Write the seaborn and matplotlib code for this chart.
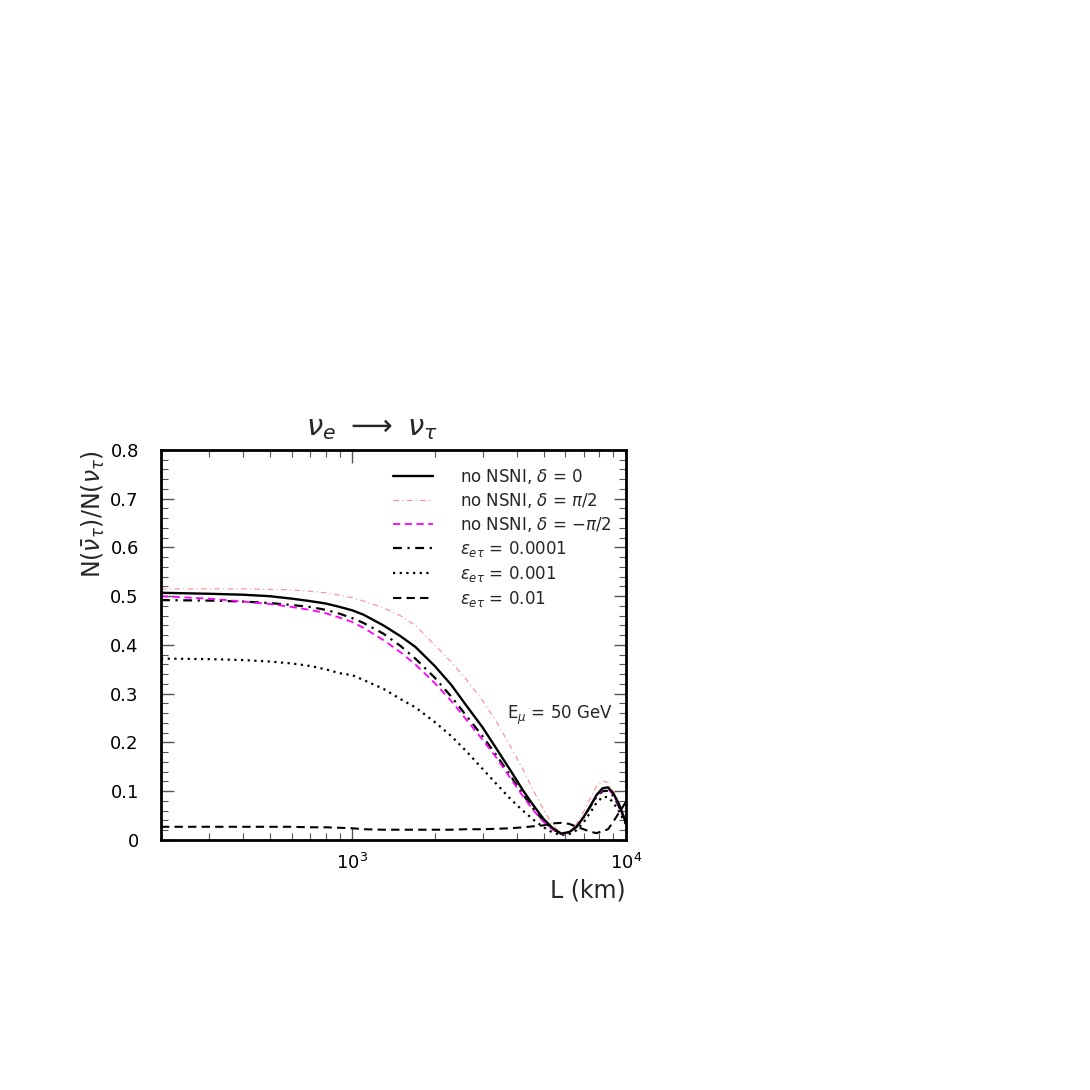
import numpy as np
import pandas as pd
import seaborn as sns
import matplotlib.pyplot as plt
from matplotlib.ticker import MultipleLocator, FuncFormatter, LogLocator, NullFormatter

# baseline length L (km)
L_km = [200, 300, 400, 500, 600, 700, 800, 900, 1000, 1100, 1300, 1500, 1700,
        2000, 2300, 2600, 3000, 3400, 3800, 4200, 4600, 5000, 5400, 5800,
        6200, 6600, 7000, 7400, 7800, 8200, 8600, 9000, 9400, 10000]

# ratio N(anti-nu_tau)/N(nu_tau) for each case
no_nsni_d0 = [0.507, 0.505, 0.503, 0.500, 0.495, 0.490, 0.485, 0.478, 0.471, 0.462,
              0.440, 0.418, 0.396, 0.357, 0.318, 0.277, 0.230, 0.183, 0.141, 0.102,
              0.070, 0.043, 0.024, 0.013, 0.016, 0.027, 0.047, 0.069, 0.092, 0.106,
              0.108, 0.095, 0.075, 0.035]
no_nsni_dpi2 = [0.515, 0.515, 0.515, 0.514, 0.513, 0.510, 0.507, 0.502, 0.497, 0.490,
                0.476, 0.460, 0.440, 0.400, 0.365, 0.330, 0.285, 0.238, 0.190, 0.145,
                0.100, 0.062, 0.030, 0.014, 0.018, 0.033, 0.058, 0.085, 0.110, 0.121,
                0.118, 0.100, 0.078, 0.040]
no_nsni_dmpi2 = [0.500, 0.495, 0.489, 0.484, 0.478, 0.472, 0.465, 0.456, 0.447, 0.435,
                 0.410, 0.385, 0.360, 0.322, 0.285, 0.248, 0.205, 0.165, 0.125, 0.090,
                 0.060, 0.037, 0.021, 0.012, 0.016, 0.027, 0.046, 0.068, 0.090, 0.103,
                 0.105, 0.092, 0.072, 0.035]
eps_1e4 = [0.492, 0.491, 0.489, 0.486, 0.482, 0.478, 0.472, 0.464, 0.455, 0.445,
           0.423, 0.398, 0.372, 0.333, 0.294, 0.256, 0.212, 0.170, 0.130, 0.094,
           0.063, 0.039, 0.022, 0.013, 0.016, 0.027, 0.046, 0.068, 0.088, 0.100,
           0.101, 0.090, 0.070, 0.035]
eps_1e3 = [0.372, 0.371, 0.369, 0.366, 0.362, 0.357, 0.350, 0.342, 0.338, 0.328,
           0.310, 0.289, 0.272, 0.242, 0.213, 0.183, 0.145, 0.112, 0.083, 0.060,
           0.041, 0.026, 0.015, 0.010, 0.012, 0.020, 0.036, 0.056, 0.076, 0.088,
           0.088, 0.076, 0.060, 0.032]
eps_1e2 = [0.027, 0.027, 0.027, 0.027, 0.027, 0.026, 0.026, 0.025, 0.024, 0.022,
           0.021, 0.021, 0.021, 0.021, 0.021, 0.022, 0.022, 0.023, 0.024, 0.026,
           0.028, 0.030, 0.034, 0.035, 0.033, 0.027, 0.022, 0.017, 0.014, 0.018,
           0.022, 0.038, 0.055, 0.078]

labels = [r"no NSNI, $\delta$ = 0",
          r"no NSNI, $\delta$ = $\pi/2$",
          r"no NSNI, $\delta$ = $-\pi/2$",
          r"$\varepsilon_{e\tau}$ = 0.0001",
          r"$\varepsilon_{e\tau}$ = 0.001",
          r"$\varepsilon_{e\tau}$ = 0.01"]
series = [no_nsni_d0, no_nsni_dpi2, no_nsni_dmpi2, eps_1e4, eps_1e3, eps_1e2]

styles = [
    dict(color="black", linewidth=1.7, linestyle="-"),
    dict(color="#ff8c8c", linewidth=0.8, linestyle=(0, (5, 3, 1, 3))),
    dict(color="#ff00ff", linewidth=1.3, linestyle=(0, (4, 2.5))),
    dict(color="black", linewidth=1.6, linestyle=(0, (4, 2.5, 1, 2.5))),
    dict(color="black", linewidth=1.6, linestyle=(0, (1, 2))),
    dict(color="black", linewidth=1.5, linestyle=(0, (4, 2.5))),
]

sns.set_theme(style="ticks")
plt.rcParams["font.family"] = ["DejaVu Sans"]
plt.rcParams["mathtext.fontset"] = "dejavusans"

fig = plt.figure(figsize=(10.9, 10.9), dpi=100)
ax = fig.add_axes([0.1477, 0.2294, 0.4266, 0.3578])

# draw in reverse so the solid line sits on top
for vals, lab, st in list(zip(series, labels, styles))[::-1]:
    sns.lineplot(x=L_km, y=vals, ax=ax, label=lab, **st)

ax.set_xscale("log")
ax.set_xlim(200, 10000)
ax.set_ylim(0, 0.8)

ax.yaxis.set_major_locator(MultipleLocator(0.1))
ax.yaxis.set_minor_locator(MultipleLocator(0.02))
ax.yaxis.set_major_formatter(FuncFormatter(lambda v, p: "0" if abs(v) < 1e-9 else f"{v:.1f}"))
ax.xaxis.set_major_locator(LogLocator(base=10))
ax.xaxis.set_minor_locator(LogLocator(base=10, subs=np.arange(2, 10)))
ax.xaxis.set_minor_formatter(NullFormatter())

ax.tick_params(which="both", direction="in", top=True, right=True, colors="#555555",
               labelcolor="black", labelsize=13)
ax.tick_params(which="major", length=9, width=1.0)
ax.tick_params(which="minor", length=5, width=0.8)
ax.tick_params(axis="x", which="major", pad=9)
ax.tick_params(axis="y", which="major", pad=16)
for sp in ax.spines.values():
    sp.set_linewidth(2.0)
    sp.set_color("black")

ax.set_xlabel("L (km)", fontsize=17, loc="right", labelpad=4)
ax.set_ylabel(r"N($\bar{\nu}_\tau$)/N($\nu_\tau$)", fontsize=17, loc="top", labelpad=2)

ax.text(0.972, 0.32, r"E$_\mu$ = 50 GeV", transform=ax.transAxes, ha="right",
        va="center", fontsize=12)
fig.text(0.341, 0.607, r"$\nu_e\ \longrightarrow\ \nu_\tau$", ha="center", va="center",
         fontsize=21)

handles, labs = ax.get_legend_handles_labels()
ax.legend(handles[::-1], labs[::-1], loc="upper right", bbox_to_anchor=(1.0, 0.995),
          frameon=False, fontsize=12, handlelength=2.4, handletextpad=1.6,
          labelspacing=0.3)

fig.savefig("out.png", dpi=100)
